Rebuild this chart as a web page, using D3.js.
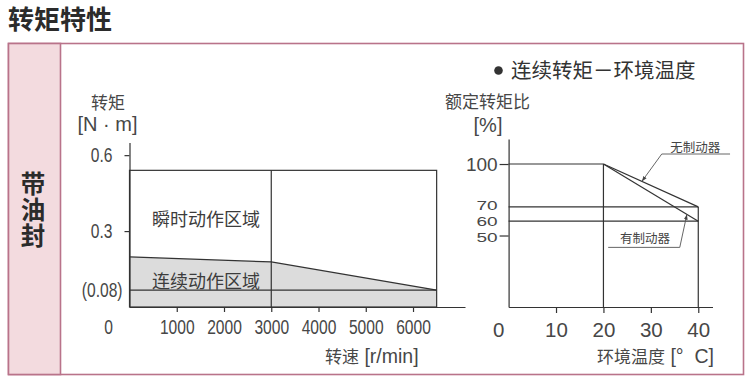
<!DOCTYPE html>
<html><head><meta charset="utf-8">
<script src="https://cdn.jsdelivr.net/npm/d3@7"></script>
<style>
body{margin:0;background:#fff}
svg text{font-family:"Noto Sans CJK SC","Liberation Sans",sans-serif}
svg .num{font-family:"Liberation Sans",Arial,sans-serif}
</style></head><body>
<svg id="c" width="754" height="391"></svg>
<script>
// ---- data: left chart (torque vs speed)
const speedTicks = [1000, 2000, 3000, 4000, 5000, 6000];
const torqueTicks = [0.6, 0.3];
const torqueTickLabels = ["0.6", "0.3"];
const baseTorqueLabel = "(0.08)";
const speedMax = 6500;          // r/min, end of operating area
const splitSpeed = 3000;        // r/min, vertical divider
const instantTorque = 0.54;     // N·m, top of instantaneous area
const contSpeed = [0, 3000, 6500];
const contTorque = [0.198, 0.178, 0.067];
const baseTorque = 0.067;       // drawn line labelled (0.08)
// ---- data: right chart (rated torque ratio vs ambient temperature)
const tempTicks = [10, 20, 30, 40];
const ratioTicks = [100, 50];
const ratioLineLevels = [70, 60];
const noBrakeTemp = [0, 20, 40], noBrakeRatio = [100, 100, 70];
const brakeTemp = [0, 20, 40], brakeRatio = [100, 100, 60];
const noteLabels = ["无制动器", "有制动器"];

const svg = d3.select("#c");
const INK = "#333", NUM = "#474747", PINK = "#b9738a";

// frame
svg.append("rect").attr("x", 8.5).attr("y", 43.5).attr("width", 735).attr("height", 331)
  .attr("fill", "#fff").attr("stroke", PINK).attr("stroke-width", 1.6);
svg.append("rect").attr("x", 8.5).attr("y", 43.5).attr("width", 52).attr("height", 331)
  .attr("fill", "#f3dbdf").attr("stroke", PINK).attr("stroke-width", 1.6);
svg.append("text").attr("x", 8).attr("y", 29).attr("font-size", 26).attr("font-weight", "bold")
  .attr("fill", "#2b2b2b").text("转矩特性");
svg.append("text").attr("x", 33).attr("y", 171).attr("font-size", 24.5).attr("font-weight", "bold")
  .attr("fill", "#2b2b2b").style("writing-mode", "vertical-rl").attr("letter-spacing", 1.6).text("带油封");

// legend
svg.append("circle").attr("cx", 498.5).attr("cy", 70.5).attr("r", 4.3).attr("fill", INK);
svg.append("text").attr("x", 511).attr("y", 77.5).attr("font-size", 20.5).attr("fill", INK).text("连续转矩－环境温度");

// ===== left chart
const x1 = d3.scaleLinear().domain([0, 7100]).range([129.5, 465]);
const y1 = d3.scaleLinear().domain([0, 0.65]).range([307, 142.5]);
const L = svg.append("g");

const area = d3.area().x((d, i) => x1(contSpeed[i])).y0(y1(0)).y1((d, i) => y1(contTorque[i]));
L.append("path").attr("d", area(contSpeed)).attr("fill", "#dcdcdc");
const line1 = d3.line().x((d, i) => x1(contSpeed[i])).y((d, i) => y1(contTorque[i]));
L.append("path").attr("d", line1(contSpeed)).attr("fill", "none").attr("stroke", INK).attr("stroke-width", 1.2);
L.append("rect").attr("x", x1(0)).attr("y", y1(instantTorque)).attr("width", x1(speedMax) - x1(0))
  .attr("height", y1(0) - y1(instantTorque)).attr("fill", "none").attr("stroke", INK).attr("stroke-width", 1.2);
L.append("line").attr("x1", x1(splitSpeed)).attr("x2", x1(splitSpeed)).attr("y1", y1(instantTorque)).attr("y2", y1(0))
  .attr("stroke", INK).attr("stroke-width", 1.2);
L.append("line").attr("x1", x1(0)).attr("x2", x1(speedMax)).attr("y1", y1(baseTorque)).attr("y2", y1(baseTorque))
  .attr("stroke", INK).attr("stroke-width", 1.2);

function styleAxis(g) {
  g.select(".domain").attr("stroke", INK).attr("stroke-width", 1.2);
  g.selectAll(".tick line").attr("stroke", INK).attr("stroke-width", 1.2);
  g.selectAll(".tick text").attr("class", "num").attr("fill", NUM);
}
const ax1 = L.append("g").attr("transform", `translate(0,${y1(0)})`)
  .call(d3.axisBottom(x1).tickValues(speedTicks).tickSize(5).tickPadding(8).tickSizeOuter(0).tickFormat(d3.format("d")));
styleAxis(ax1);
ax1.selectAll(".tick text").attr("font-size", 19.5).attr("transform", "scale(0.8,1)");
const ay1 = L.append("g").attr("transform", `translate(${x1(0)},0)`)
  .call(d3.axisLeft(y1).tickValues(torqueTicks).tickSize(5).tickSizeOuter(0).tickFormat((d, i) => torqueTickLabels[i]));
styleAxis(ay1);
ay1.selectAll(".tick text").attr("font-size", 19.5).attr("x", -17 / 0.8).attr("transform", "scale(0.8,1)");
L.append("text").attr("class", "num").attr("font-size", 19.5).attr("fill", NUM)
  .attr("transform", `translate(${x1(0) - 7},${y1(baseTorque)}) scale(0.8,1)`).attr("dy", "0.36em")
  .attr("text-anchor", "end").text(baseTorqueLabel);
L.append("text").attr("class", "num").attr("font-size", 19.5).attr("fill", NUM)
  .attr("transform", `translate(${x1(0) - 21},${y1(0) + 13}) scale(0.8,1)`).attr("dy", "0.71em")
  .attr("text-anchor", "middle").text("0");

L.append("text").attr("x", 108).attr("y", 108.5).attr("text-anchor", "middle").attr("font-size", 17).attr("fill", NUM).text("转矩");
L.append("text").attr("class", "num").attr("x", 107.5).attr("y", 131).attr("text-anchor", "middle").attr("font-size", 20).attr("fill", NUM).text("[N · m]");
L.append("text").attr("x", 152).attr("y", 226).attr("font-size", 18).attr("fill", "#3c3c3c").text("瞬时动作区域");
L.append("text").attr("x", 152).attr("y", 288).attr("font-size", 18).attr("fill", "#3c3c3c").text("连续动作区域");
const xl1 = L.append("text").attr("x", 325).attr("y", 363).attr("font-size", 17).attr("fill", NUM);
xl1.append("tspan").text("转速");
xl1.append("tspan").attr("class", "num").attr("font-size", 19.5).text("\u00a0[r/min]");

// ===== right chart
const x2 = d3.scaleLinear().domain([0, 43]).range([508.6, 712.5]);
const y2 = d3.scaleLinear().domain([0, 117.5]).range([307, 139]);
const R = svg.append("g");
const lr = d3.line().x(d => x2(d[0])).y(d => y2(d[1]));
const seg = (a, b) => R.append("path").attr("d", lr([a, b])).attr("fill", "none").attr("stroke", INK).attr("stroke-width", 1.2);
seg([noBrakeTemp[0], noBrakeRatio[0]], [noBrakeTemp[1], noBrakeRatio[1]]);
seg([noBrakeTemp[1], 0], [noBrakeTemp[1], noBrakeRatio[1]]);
seg([noBrakeTemp[1], noBrakeRatio[1]], [noBrakeTemp[2], noBrakeRatio[2]]);
seg([brakeTemp[1], brakeRatio[1]], [brakeTemp[2], brakeRatio[2]]);
ratioLineLevels.forEach(v => seg([0, v], [40, v]));
seg([noBrakeTemp[2], 0], [noBrakeTemp[2], noBrakeRatio[2]]);

const ax2 = R.append("g").attr("transform", `translate(0,${y2(0)})`)
  .call(d3.axisBottom(x2).tickValues(tempTicks).tickSize(6).tickPadding(9).tickSizeOuter(0));
styleAxis(ax2);
ax2.selectAll(".tick text").attr("font-size", 20.5);
R.append("text").attr("class", "num").attr("font-size", 20.5).attr("fill", NUM)
  .attr("x", x2(0) - 10).attr("y", y2(0) + 15).attr("dy", "0.71em").attr("text-anchor", "middle").text("0");
const ay2 = R.append("g").attr("transform", `translate(${x2(0)},0)`)
  .call(d3.axisLeft(y2).tickValues(ratioTicks).tickSize(9).tickPadding(2).tickSizeOuter(0));
styleAxis(ay2);
ay2.selectAll(".tick text").attr("font-size", 19);
// the stacked 70/60/50 labels are compressed vertically so they do not collide
const SQ = "scale(1,0.7)";
const nudge = { 70: -1.5, 60: 0 };
ay2.selectAll(".tick").filter(d => d === 50).select("text").attr("y", 0).attr("transform", "translate(0,1.5) " + SQ);
ratioLineLevels.forEach(v => R.append("text").attr("class", "num").attr("font-size", 19).attr("fill", NUM)
  .attr("transform", `translate(${x2(0) - 11},${y2(v) + nudge[v]}) ${SQ}`).attr("dy", "0.36em").attr("text-anchor", "end").text(v));

R.append("text").attr("x", 487.5).attr("y", 108).attr("text-anchor", "middle").attr("font-size", 17).attr("fill", NUM).text("额定转矩比");
R.append("text").attr("class", "num").attr("x", 488).attr("y", 132).attr("text-anchor", "middle").attr("font-size", 20).attr("fill", NUM).text("[%]");
const xl2 = R.append("text").attr("x", 597).attr("y", 363).attr("font-size", 17).attr("fill", NUM);
xl2.append("tspan").text("环境温度");
xl2.append("tspan").attr("class", "num").attr("font-size", 19.5).text("\u00a0[°\u00a0\u00a0C]");

// annotations
svg.append("defs").append("marker").attr("id", "ah").attr("viewBox", "0 0 10 10").attr("refX", 10).attr("refY", 5)
  .attr("markerWidth", 6).attr("markerHeight", 6).attr("orient", "auto-start-reverse")
  .append("path").attr("d", "M0,1.5L10,5L0,8.5Z").attr("fill", "#444");
const onLine = (T, Rr, t) => Rr[1] + (Rr[2] - Rr[1]) * (t - T[1]) / (T[2] - T[1]);
const notes = [
  { text: noteLabels[0], tx: 34.1, ty: 112, u0: 32.3, u1: 46.7, uy: 107, tipT: 28.1, T: noBrakeTemp, Rr: noBrakeRatio, start: "u0" },
  { text: noteLabels[1], tx: 23.5, ty: 48, u0: 21, u1: 36.1, uy: 41.7, tipT: 37.6, T: brakeTemp, Rr: brakeRatio, start: "u1" }
];
notes.forEach(n => {
  R.append("text").attr("x", x2(n.tx)).attr("y", y2(n.ty)).attr("dy", "0.38em").attr("font-size", 12.5).attr("fill", "#444").text(n.text);
  R.append("line").attr("x1", x2(n.u0)).attr("x2", x2(n.u1)).attr("y1", y2(n.uy)).attr("y2", y2(n.uy))
    .attr("stroke", "#555").attr("stroke-width", 0.9);
  R.append("line").attr("x1", x2(n[n.start])).attr("y1", y2(n.uy))
    .attr("x2", x2(n.tipT)).attr("y2", y2(onLine(n.T, n.Rr, n.tipT)))
    .attr("stroke", "#555").attr("stroke-width", 0.9).attr("marker-end", "url(#ah)");
});
</script></body></html>
